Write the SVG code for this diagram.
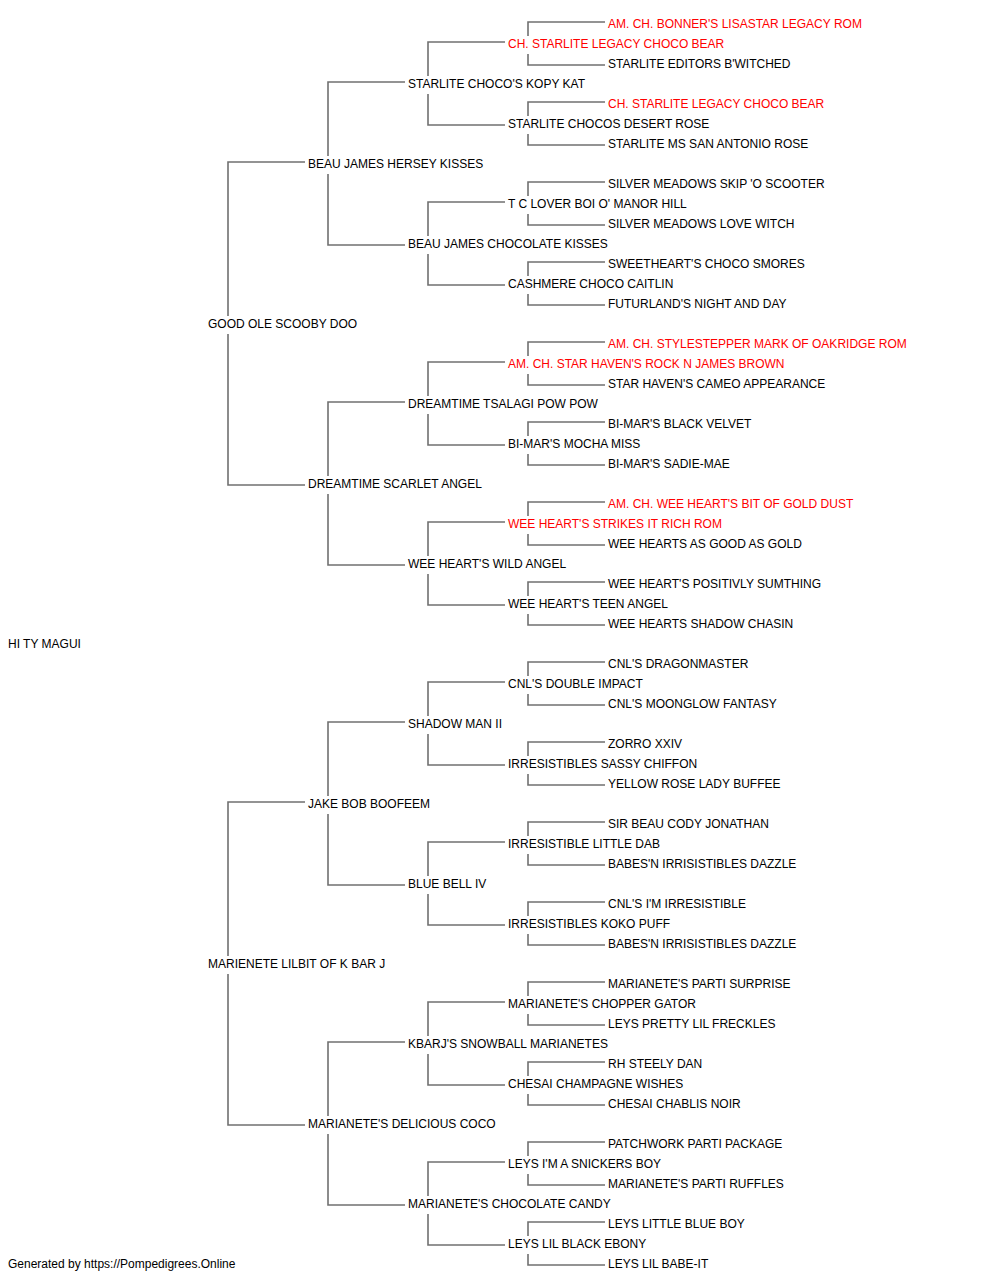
<svg xmlns="http://www.w3.org/2000/svg" width="1000" height="1280" viewBox="0 0 1000 1280">
<style>
text{font-family:"Liberation Sans",Arial,sans-serif;font-size:12px;fill:#000}
.r{fill:#ff0000}
.c path{fill:none;stroke:#707070;stroke-width:1.6}
</style>
<rect width="1000" height="1280" fill="#fff"/>
<g class="c" id="connectors">
<path d="M528 36V22H605M528 54V65H605"/>
<path d="M528 116V102H605M528 134V145H605"/>
<path d="M528 196V182H605M528 214V225H605"/>
<path d="M528 276V262H605M528 294V305H605"/>
<path d="M528 356V342H605M528 374V385H605"/>
<path d="M528 436V422H605M528 454V465H605"/>
<path d="M528 516V502H605M528 534V545H605"/>
<path d="M528 596V582H605M528 614V625H605"/>
<path d="M528 676V662H605M528 694V705H605"/>
<path d="M528 756V742H605M528 774V785H605"/>
<path d="M528 836V822H605M528 854V865H605"/>
<path d="M528 916V902H605M528 934V945H605"/>
<path d="M528 996V982H605M528 1014V1025H605"/>
<path d="M528 1076V1062H605M528 1094V1105H605"/>
<path d="M528 1156V1142H605M528 1174V1185H605"/>
<path d="M528 1236V1222H605M528 1254V1265H605"/>
<path d="M428 76V42H505M428 94V125H505"/>
<path d="M428 236V202H505M428 254V285H505"/>
<path d="M428 396V362H505M428 414V445H505"/>
<path d="M428 556V522H505M428 574V605H505"/>
<path d="M428 716V682H505M428 734V765H505"/>
<path d="M428 876V842H505M428 894V925H505"/>
<path d="M428 1036V1002H505M428 1054V1085H505"/>
<path d="M428 1196V1162H505M428 1214V1245H505"/>
<path d="M328 156V82H405M328 174V245H405"/>
<path d="M328 476V402H405M328 494V565H405"/>
<path d="M328 796V722H405M328 814V885H405"/>
<path d="M328 1116V1042H405M328 1134V1205H405"/>
<path d="M228 316V162H305M228 334V485H305"/>
<path d="M228 956V802H305M228 974V1125H305"/>
</g>
<g id="nodes" transform="translate(0,1)">
<g id="n0"><text class="r" x="608" y="27">AM. CH. BONNER'S LISASTAR LEGACY ROM</text></g>
<g id="n1"><text class="r" x="508" y="47">CH. STARLITE LEGACY CHOCO BEAR</text></g>
<g id="n2"><text x="608" y="67">STARLITE EDITORS B'WITCHED</text></g>
<g id="n3"><text x="408" y="87">STARLITE CHOCO'S KOPY KAT</text></g>
<g id="n4"><text class="r" x="608" y="107">CH. STARLITE LEGACY CHOCO BEAR</text></g>
<g id="n5"><text x="508" y="127">STARLITE CHOCOS DESERT ROSE</text></g>
<g id="n6"><text x="608" y="147">STARLITE MS SAN ANTONIO ROSE</text></g>
<g id="n7"><text x="308" y="167">BEAU JAMES HERSEY KISSES</text></g>
<g id="n8"><text x="608" y="187">SILVER MEADOWS SKIP 'O SCOOTER</text></g>
<g id="n9"><text x="508" y="207">T C LOVER BOI O' MANOR HILL</text></g>
<g id="n10"><text x="608" y="227">SILVER MEADOWS LOVE WITCH</text></g>
<g id="n11"><text x="408" y="247">BEAU JAMES CHOCOLATE KISSES</text></g>
<g id="n12"><text x="608" y="267">SWEETHEART'S CHOCO SMORES</text></g>
<g id="n13"><text x="508" y="287">CASHMERE CHOCO CAITLIN</text></g>
<g id="n14"><text x="608" y="307">FUTURLAND'S NIGHT AND DAY</text></g>
<g id="n15"><text x="208" y="327">GOOD OLE SCOOBY DOO</text></g>
<g id="n16"><text class="r" x="608" y="347">AM. CH. STYLESTEPPER MARK OF OAKRIDGE ROM</text></g>
<g id="n17"><text class="r" x="508" y="367">AM. CH. STAR HAVEN'S ROCK N JAMES BROWN</text></g>
<g id="n18"><text x="608" y="387">STAR HAVEN'S CAMEO APPEARANCE</text></g>
<g id="n19"><text x="408" y="407">DREAMTIME TSALAGI POW POW</text></g>
<g id="n20"><text x="608" y="427">BI-MAR'S BLACK VELVET</text></g>
<g id="n21"><text x="508" y="447">BI-MAR'S MOCHA MISS</text></g>
<g id="n22"><text x="608" y="467">BI-MAR'S SADIE-MAE</text></g>
<g id="n23"><text x="308" y="487">DREAMTIME SCARLET ANGEL</text></g>
<g id="n24"><text class="r" x="608" y="507">AM. CH. WEE HEART'S BIT OF GOLD DUST</text></g>
<g id="n25"><text class="r" x="508" y="527">WEE HEART'S STRIKES IT RICH ROM</text></g>
<g id="n26"><text x="608" y="547">WEE HEARTS AS GOOD AS GOLD</text></g>
<g id="n27"><text x="408" y="567">WEE HEART'S WILD ANGEL</text></g>
<g id="n28"><text x="608" y="587">WEE HEART'S POSITIVLY SUMTHING</text></g>
<g id="n29"><text x="508" y="607">WEE HEART'S TEEN ANGEL</text></g>
<g id="n30"><text x="608" y="627">WEE HEARTS SHADOW CHASIN</text></g>
<g id="n31"><text x="8" y="647">HI TY MAGUI</text></g>
<g id="n32"><text x="608" y="667">CNL'S DRAGONMASTER</text></g>
<g id="n33"><text x="508" y="687">CNL'S DOUBLE IMPACT</text></g>
<g id="n34"><text x="608" y="707">CNL'S MOONGLOW FANTASY</text></g>
<g id="n35"><text x="408" y="727">SHADOW MAN II</text></g>
<g id="n36"><text x="608" y="747">ZORRO XXIV</text></g>
<g id="n37"><text x="508" y="767">IRRESISTIBLES SASSY CHIFFON</text></g>
<g id="n38"><text x="608" y="787">YELLOW ROSE LADY BUFFEE</text></g>
<g id="n39"><text x="308" y="807">JAKE BOB BOOFEEM</text></g>
<g id="n40"><text x="608" y="827">SIR BEAU CODY JONATHAN</text></g>
<g id="n41"><text x="508" y="847">IRRESISTIBLE LITTLE DAB</text></g>
<g id="n42"><text x="608" y="867">BABES'N IRRISISTIBLES DAZZLE</text></g>
<g id="n43"><text x="408" y="887">BLUE BELL IV</text></g>
<g id="n44"><text x="608" y="907">CNL'S I'M IRRESISTIBLE</text></g>
<g id="n45"><text x="508" y="927">IRRESISTIBLES KOKO PUFF</text></g>
<g id="n46"><text x="608" y="947">BABES'N IRRISISTIBLES DAZZLE</text></g>
<g id="n47"><text x="208" y="967">MARIENETE LILBIT OF K BAR J</text></g>
<g id="n48"><text x="608" y="987">MARIANETE'S PARTI SURPRISE</text></g>
<g id="n49"><text x="508" y="1007">MARIANETE'S CHOPPER GATOR</text></g>
<g id="n50"><text x="608" y="1027">LEYS PRETTY LIL FRECKLES</text></g>
<g id="n51"><text x="408" y="1047">KBARJ'S SNOWBALL MARIANETES</text></g>
<g id="n52"><text x="608" y="1067">RH STEELY DAN</text></g>
<g id="n53"><text x="508" y="1087">CHESAI CHAMPAGNE WISHES</text></g>
<g id="n54"><text x="608" y="1107">CHESAI CHABLIS NOIR</text></g>
<g id="n55"><text x="308" y="1127">MARIANETE'S DELICIOUS COCO</text></g>
<g id="n56"><text x="608" y="1147">PATCHWORK PARTI PACKAGE</text></g>
<g id="n57"><text x="508" y="1167">LEYS I'M A SNICKERS BOY</text></g>
<g id="n58"><text x="608" y="1187">MARIANETE'S PARTI RUFFLES</text></g>
<g id="n59"><text x="408" y="1207">MARIANETE'S CHOCOLATE CANDY</text></g>
<g id="n60"><text x="608" y="1227">LEYS LITTLE BLUE BOY</text></g>
<g id="n61"><text x="508" y="1247">LEYS LIL BLACK EBONY</text></g>
<g id="n62"><text x="608" y="1267">LEYS LIL BABE-IT</text></g>
<g id="footer"><text x="8" y="1267">Generated by https://Pompedigrees.Online</text></g>
</g>
</svg>
